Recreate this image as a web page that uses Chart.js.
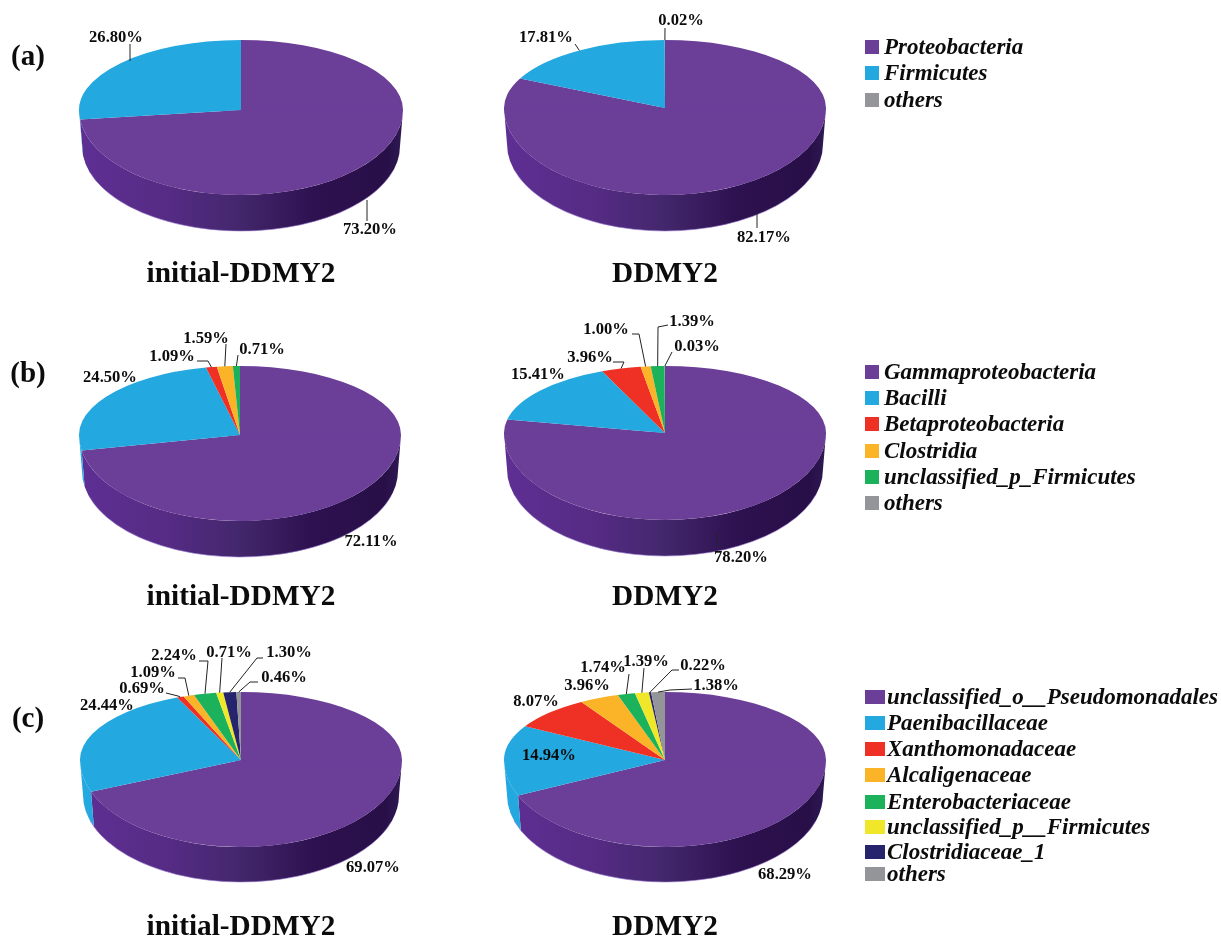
<!DOCTYPE html>
<html><head><meta charset="utf-8">
<style>
html,body{margin:0;padding:0;background:#fff;width:1221px;height:936px;overflow:hidden;position:relative;font-family:"Liberation Serif",serif;color:#0c0c0c}
#page{position:absolute;left:0;top:0;width:1221px;height:936px;filter:blur(0.45px)}
canvas{position:absolute}
.t{position:absolute;white-space:nowrap;transform:translate(-50%,-50%);font-weight:bold}
.pct{font-size:16.6px}
.title{font-size:29.3px}
.panel{font-size:29px}
.lg{position:absolute;white-space:nowrap;transform:translateY(-50%);font-weight:bold;font-style:italic;font-size:23px}
.sw{position:absolute;left:865px;height:14px;transform:translateY(-50%)}
</style>
<script src="https://cdn.jsdelivr.net/npm/chart.js@4"></script>
</head><body><div id="page"></div>
<script>
// ---- data ----
const categoriesA = ["Proteobacteria","Firmicutes","others"];
const categoriesB = ["Gammaproteobacteria","Bacilli","Betaproteobacteria","Clostridia","unclassified_p_Firmicutes","others"];
const categoriesC = ["unclassified_o__Pseudomonadales","Paenibacillaceae","Xanthomonadaceae","Alcaligenaceae","Enterobacteriaceae","unclassified_p__Firmicutes","Clostridiaceae_1","others"];
const valuesA1 = [73.20,26.80];
const valuesA2 = [82.17,17.81,0.02];
const valuesB1 = [72.11,24.50,1.09,1.59,0.71];
const valuesB2 = [78.20,15.41,3.96,1.00,1.39,0.03];
const valuesC1 = [69.07,24.44,0.69,1.09,2.24,0.71,1.30,0.46];
const valuesC2 = [68.29,14.94,8.07,3.96,1.74,1.39,0.22,1.38];
const chartTitles = ["initial-DDMY2","DDMY2"];
const panelNames = ["(a)","(b)","(c)"];
const colorsA = ["#6b3f98","#23a8e0","#939598"];
const colorsB = ["#6b3f98","#23a8e0","#ee3124","#fbb427","#1cb25c","#939598"];
const colorsC = ["#6b3f98","#23a8e0","#ee3124","#fbb427","#1cb25c","#f0e62a","#25246c","#939598"];

// ---- layout (page pixels) ----
const pies = [
 {values:valuesA1,colors:colorsA,names:categoriesA,box:[0,0,450,300],ax:241,ay:110,rx:162,top:70,bot:85,depth:36,title:[241,272],
  labels:[[370,229,[[367,200],[367,221]]],[116,37,[[130,44],[130,61]]]]},
 {values:valuesA2,colors:colorsA,names:categoriesA,box:[450,0,410,300],ax:665,ay:108,rx:161,top:68,bot:87,depth:36,title:[665,272],
  labels:[[764,237,[[757,213],[757,228]]],[546,37,[[575,44]],1],[681,20,[[665,28]],1]]},
 {values:valuesB1,colors:colorsB,names:categoriesB,box:[0,300,450,320],ax:240,ay:435,rx:161,top:69,bot:86,depth:36,title:[241,595],
  labels:[[371,541,[]],[110,377,[]],[172,356,[[197,361],[208,361]],1],[206,338,[[226,344]],1],[262,349,[[238,355]],1]]},
 {values:valuesB2,colors:colorsB,names:categoriesB,box:[450,300,410,320],ax:665,ay:433,rx:161,top:67,bot:87,depth:36,title:[665,595],
  labels:[[741,557,[[717,533],[717,547]]],[538,374,[]],[590,357,[[613,362],[624,362]],1],[606,329,[[632,334],[639,334]],1],[692,321,[[668,325],[658,327]],1],[697,346,[[672,352]],1]]},
 {values:valuesC1,colors:colorsC,names:categoriesC,box:[0,620,450,316],ax:241,ay:760,rx:161,top:68,bot:87,depth:35,title:[241,925],
  labels:[[373,867,[]],[107,705,[]],[142,688,[[166,693],[178,696]],1],[153,672,[[178,678],[185,678]],1],[174,655,[[199,661],[208,661]],1],[229,652,[[222,658]],1],[289,652,[[263,658],[257,658]],1],[284,677,[[258,682],[250,682]],1]]},
 {values:valuesC2,colors:colorsC,names:categoriesC,box:[450,620,410,316],ax:665,ay:760,rx:161,top:68,bot:87,depth:35,title:[665,925],
  labels:[[785,874,[]],[549,755,[]],[536,701,[]],[587,685,[]],[603,667,[[629,674]],1],[646,661,[[644,668]],1],[703,665,[[679,670],[672,670]],1],[716,685,[[692,689],[670,690]],1]]}
];
const panels = [[28,55],[28,372],[28,717]];
const legends = [
 {names:categoriesA,colors:colorsA,rows:[47,73,100],sw:14,tx:884},
 {names:categoriesB,colors:colorsB,rows:[372,398,424,451,477,503],sw:14,tx:884},
 {names:categoriesC,colors:colorsC,rows:[697,723,749,775,802,827,852,874],sw:20,tx:887}
];

const page=document.getElementById('page');
function addText(cls,txt,x,y){const d=document.createElement('div');d.className=cls;d.textContent=txt;d.style.left=x+'px';d.style.top=y+'px';page.appendChild(d);}

// Draws the dataset as a tilted disc: squashes the library's own arcs and extrudes the rim
const discPlugin = {
 id:'disc',
 beforeDatasetDraw(chart,args){
  const g=chart.config.options.plugins.disc, ctx=chart.ctx, meta=args.meta;
  const arcs=meta.data, ax=arcs[0].x, ay=arcs[0].y;
  const rx=arcs[0].outerRadius, W=chart.width, H=chart.height;
  const grad=ctx.createLinearGradient(ax-rx,0,ax+rx,0);
  grad.addColorStop(0,'#5f2f94');grad.addColorStop(0.28,'#552b84');grad.addColorStop(0.5,'#43276c');
  grad.addColorStop(0.72,'#2e1150');grad.addColorStop(0.95,'#280f47');grad.addColorStop(1,'#2f1a55');
  arcs.forEach((a,i)=>{
   const s=Math.max(a.startAngle,0), e=Math.min(a.endAngle,Math.PI);
   if(e<=s) return;
   ctx.beginPath();
   ctx.ellipse(ax,ay,rx,g.bot,0,s,e,false);
   ctx.ellipse(ax,ay+g.depth,rx-3,g.bot,0,e,s,true);
   ctx.closePath();
   ctx.fillStyle=i===0?grad:chart.data.datasets[0].backgroundColor[i];
   ctx.fill();
  });
  ctx.beginPath();ctx.ellipse(ax,ay+g.depth,rx-3,g.bot,0,0.3,Math.PI-0.3,false);
  ctx.strokeStyle='rgba(150,120,205,0.6)';ctx.lineWidth=1;ctx.stroke();
  [[g.bot,ay-0.5,H],[g.top,0,ay+0.5]].forEach(([ry,y0,y1])=>{
   ctx.save();
   ctx.beginPath();ctx.rect(0,y0,W,y1-y0);ctx.clip();
   ctx.translate(ax,ay);ctx.scale(1,ry/rx);ctx.translate(-ax,-ay);
   meta.controller.draw();
   ctx.restore();
  });
  return false;
 },
 afterDraw(chart){
  const g=chart.config.options.plugins.disc, ctx=chart.ctx, arcs=chart.getDatasetMeta(0).data;
  ctx.save();ctx.strokeStyle='#222';ctx.lineWidth=1;
  g.labels.forEach((l,i)=>{
   const pts=l[2].map(p=>[p[0]-g.box[0],p[1]-g.box[1]]);
   if(l[3]){const a=arcs[i],m=(a.startAngle+a.endAngle)/2,rx=a.outerRadius;
    pts.push([a.x+rx*Math.cos(m),a.y+(Math.sin(m)<0?g.top:g.bot)*Math.sin(m)]);}
   if(pts.length<2) return;
   ctx.beginPath();pts.forEach((p,k)=>k?ctx.lineTo(p[0],p[1]):ctx.moveTo(p[0],p[1]));ctx.stroke();
  });
  ctx.restore();
 }
};

pies.forEach((p,n)=>{
 const [bx,by,bw,bh]=p.box;
 const c=document.createElement('canvas');
 c.style.left=bx+'px';c.style.top=by+'px';c.style.width=bw+'px';c.style.height=bh+'px';c.width=bw;c.height=bh;
 page.appendChild(c);
 const cx=p.ax-bx, cy=p.ay-by;
 const pad={left:Math.max(0,2*cx-bw),right:Math.max(0,bw-2*cx),top:Math.max(0,2*cy-bh),bottom:Math.max(0,bh-2*cy)};
 new Chart(c,{type:'pie',
  data:{labels:p.names.slice(0,p.values.length),
   datasets:[{data:p.values,backgroundColor:p.colors.slice(0,p.values.length),borderWidth:0}]},
  options:{responsive:false,animation:false,devicePixelRatio:1,radius:p.rx,layout:{padding:pad},
   plugins:{legend:{display:false},tooltip:{enabled:false},disc:p}},
  plugins:[discPlugin]});
 p.labels.forEach((l,i)=>addText('t pct',p.values[i].toFixed(2)+'%',l[0],l[1]));
 addText('t title',chartTitles[n%2],p.title[0],p.title[1]);
});
panels.forEach((q,i)=>addText('t panel',panelNames[i],q[0],q[1]));
legends.forEach(L=>L.names.forEach((name,i)=>{
 const s=document.createElement('div');s.className='sw';s.style.top=L.rows[i]+'px';s.style.width=L.sw+'px';s.style.background=L.colors[i];page.appendChild(s);
 const d=document.createElement('div');d.className='lg';d.style.top=L.rows[i]+'px';d.style.left=L.tx+'px';d.textContent=name;page.appendChild(d);
}));
</script>
</body></html>
